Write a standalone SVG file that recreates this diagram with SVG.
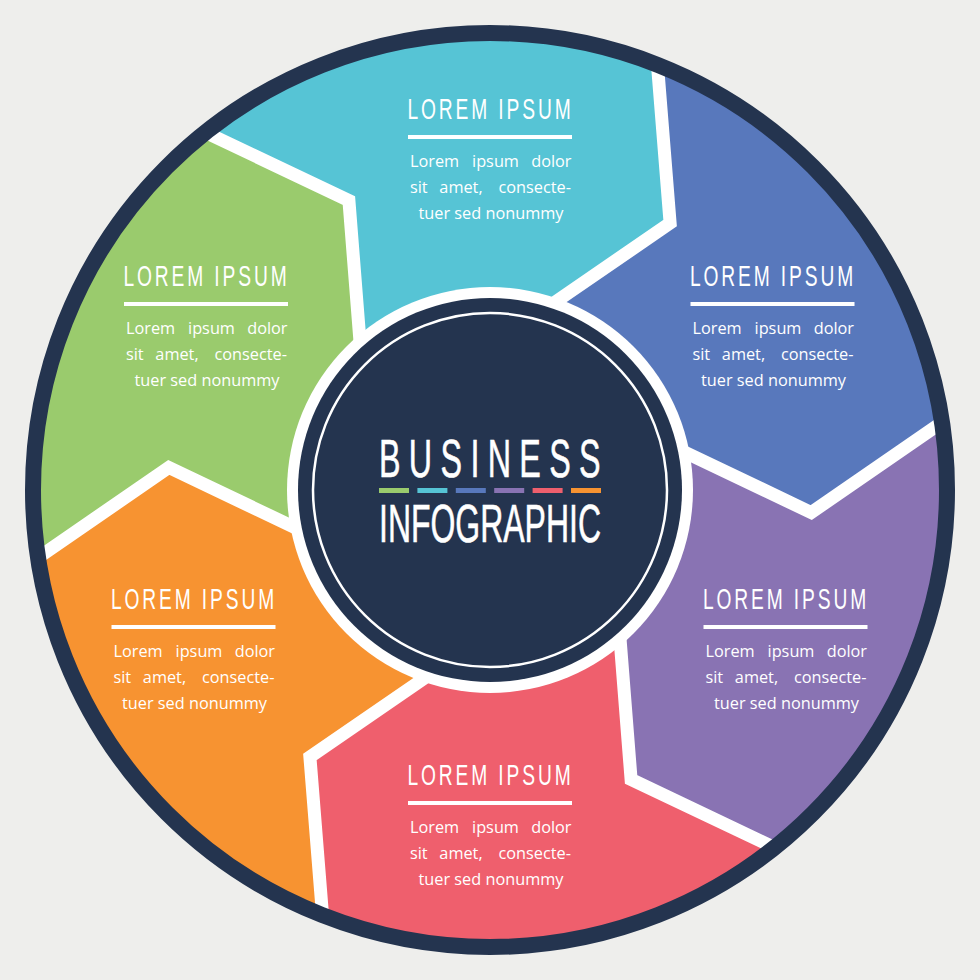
<svg xmlns="http://www.w3.org/2000/svg" width="980" height="980" viewBox="0 0 980 980">
<defs>
<style>
.title{font-family:"Liberation Sans",Arial,sans-serif;font-size:30px;fill:#fff;letter-spacing:4.5px}
.body{font-family:"Open Sans","Liberation Sans",sans-serif;font-size:16.3px;fill:#fff}
.mid{text-anchor:middle}
.end{text-anchor:end}
.sep{fill:none;stroke:#fff;stroke-width:13;stroke-linejoin:miter;stroke-miterlimit:10}
.rule{fill:#fff}
.big{font-family:"Liberation Sans",Arial,sans-serif;font-size:54px;fill:#fff;stroke:#fff;stroke-width:0.6}
</style>
<clipPath id="disc"><circle cx="490" cy="490" r="457"/></clipPath>
<polygon id="seg" points="490,490 526.2,322 670.1,223.1 652.2,-1 1041.6,59 996.3,385 811.2,512.5 653.5,437.5"/>
<path id="sepPath" d="M652.2,-1 L670.1,223.1 L526.2,322"/>
</defs>
<rect width="980" height="980" fill="#EEEEEC"/>

<g id="node-blue">
<use href="#seg" fill="#5878BC" clip-path="url(#disc)"/>
<text class="title" x="690" y="286" textLength="166" lengthAdjust="spacingAndGlyphs">LOREM IPSUM</text>
<rect class="rule" x="690.5" y="302" width="164" height="4"/>
<text class="body" x="692.5" y="334">Lorem</text><text class="body mid" x="778" y="334">ipsum</text><text class="body end" x="854" y="334">dolor</text>
<text class="body" x="692.5" y="360">sit</text><text class="body mid" x="743.5" y="360">amet,</text><text class="body end" x="853.5" y="360">consecte-</text>
<text class="body mid" x="773.5" y="386">tuer sed nonummy</text>
</g>

<g id="node-purple">
<use href="#seg" fill="#8973B3" transform="rotate(60 490 490)" clip-path="url(#disc)"/>
<text class="title" x="703" y="609" textLength="166" lengthAdjust="spacingAndGlyphs">LOREM IPSUM</text>
<rect class="rule" x="703.5" y="625" width="164" height="4"/>
<text class="body" x="705.5" y="657">Lorem</text><text class="body mid" x="791" y="657">ipsum</text><text class="body end" x="867" y="657">dolor</text>
<text class="body" x="705.5" y="683">sit</text><text class="body mid" x="756.5" y="683">amet,</text><text class="body end" x="866.5" y="683">consecte-</text>
<text class="body mid" x="786.5" y="709">tuer sed nonummy</text>
</g>

<g id="node-red">
<use href="#seg" fill="#EF5F6D" transform="rotate(120 490 490)" clip-path="url(#disc)"/>
<text class="title" x="407.5" y="785" textLength="166" lengthAdjust="spacingAndGlyphs">LOREM IPSUM</text>
<rect class="rule" x="408" y="801" width="164" height="4"/>
<text class="body" x="410" y="833">Lorem</text><text class="body mid" x="495.5" y="833">ipsum</text><text class="body end" x="571.5" y="833">dolor</text>
<text class="body" x="410" y="859">sit</text><text class="body mid" x="461" y="859">amet,</text><text class="body end" x="571" y="859">consecte-</text>
<text class="body mid" x="491" y="885">tuer sed nonummy</text>
</g>

<g id="node-orange">
<use href="#seg" fill="#F79331" transform="rotate(180 490 490)" clip-path="url(#disc)"/>
<text class="title" x="111" y="609" textLength="166" lengthAdjust="spacingAndGlyphs">LOREM IPSUM</text>
<rect class="rule" x="111.5" y="625" width="164" height="4"/>
<text class="body" x="113.5" y="657">Lorem</text><text class="body mid" x="199" y="657">ipsum</text><text class="body end" x="275" y="657">dolor</text>
<text class="body" x="113.5" y="683">sit</text><text class="body mid" x="164.5" y="683">amet,</text><text class="body end" x="274.5" y="683">consecte-</text>
<text class="body mid" x="194.5" y="709">tuer sed nonummy</text>
</g>

<g id="node-green">
<use href="#seg" fill="#9ACB6D" transform="rotate(240 490 490)" clip-path="url(#disc)"/>
<text class="title" x="123.5" y="286" textLength="166" lengthAdjust="spacingAndGlyphs">LOREM IPSUM</text>
<rect class="rule" x="124" y="302" width="164" height="4"/>
<text class="body" x="126" y="334">Lorem</text><text class="body mid" x="211.5" y="334">ipsum</text><text class="body end" x="287.5" y="334">dolor</text>
<text class="body" x="126" y="360">sit</text><text class="body mid" x="177" y="360">amet,</text><text class="body end" x="287" y="360">consecte-</text>
<text class="body mid" x="207" y="386">tuer sed nonummy</text>
</g>

<g id="node-teal">
<use href="#seg" fill="#56C4D5" transform="rotate(300 490 490)" clip-path="url(#disc)"/>
<text class="title" x="407.5" y="119" textLength="166" lengthAdjust="spacingAndGlyphs">LOREM IPSUM</text>
<rect class="rule" x="408" y="135" width="164" height="4"/>
<text class="body" x="410" y="167">Lorem</text><text class="body mid" x="495.5" y="167">ipsum</text><text class="body end" x="571.5" y="167">dolor</text>
<text class="body" x="410" y="193">sit</text><text class="body mid" x="461" y="193">amet,</text><text class="body end" x="571" y="193">consecte-</text>
<text class="body mid" x="491" y="219">tuer sed nonummy</text>
</g>

<g id="connectors" clip-path="url(#disc)">
<use href="#sepPath" class="sep"/>
<use href="#sepPath" class="sep" transform="rotate(60 490 490)"/>
<use href="#sepPath" class="sep" transform="rotate(120 490 490)"/>
<use href="#sepPath" class="sep" transform="rotate(180 490 490)"/>
<use href="#sepPath" class="sep" transform="rotate(240 490 490)"/>
<use href="#sepPath" class="sep" transform="rotate(300 490 490)"/>
</g>

<circle id="outer-ring" cx="490" cy="490" r="457" fill="none" stroke="#24344F" stroke-width="16"/>

<g id="node-center">
<circle cx="490" cy="490" r="203" fill="#FFFFFF"/>
<circle cx="490" cy="490" r="192" fill="#24344F"/>
<circle cx="490" cy="490" r="177" fill="none" stroke="#FFFFFF" stroke-width="2.5"/>
<text class="big" x="379" y="477" letter-spacing="14" textLength="230" lengthAdjust="spacingAndGlyphs">BUSINESS</text>
<rect x="379" y="488" width="30" height="5" fill="#9ACB6D"/>
<rect x="417.4" y="488" width="30" height="5" fill="#56C4D5"/>
<rect x="455.8" y="488" width="30" height="5" fill="#5878BC"/>
<rect x="494.2" y="488" width="30" height="5" fill="#8973B3"/>
<rect x="532.6" y="488" width="30" height="5" fill="#EF5F6D"/>
<rect x="571" y="488" width="30" height="5" fill="#F79331"/>
<text class="big" x="379" y="542" textLength="222" lengthAdjust="spacingAndGlyphs">INFOGRAPHIC</text>
</g>
</svg>
